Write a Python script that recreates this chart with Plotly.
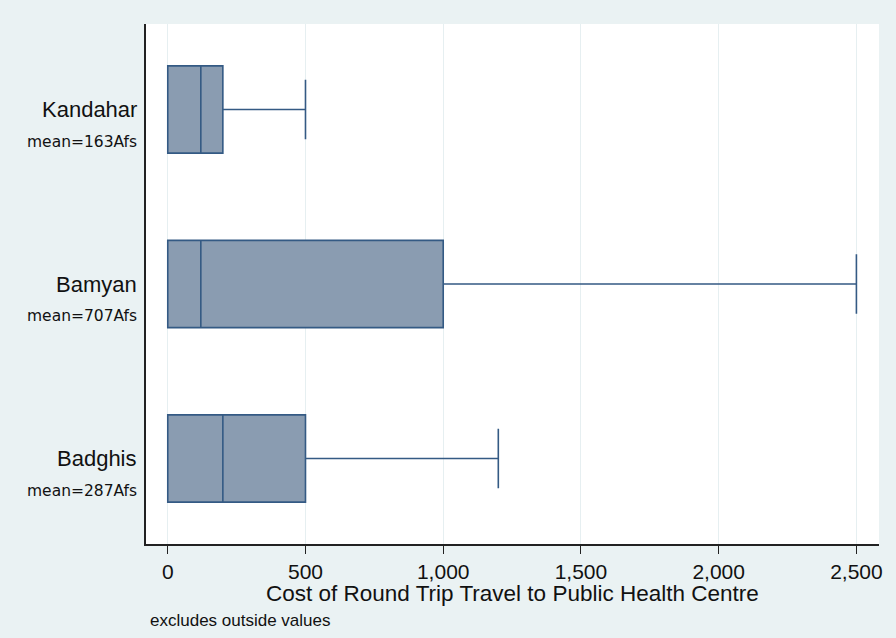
import plotly.graph_objects as go

regions = ["Badghis", "Bamyan", "Kandahar"]
mean_labels = ["mean=287Afs", "mean=707Afs", "mean=163Afs"]
positions = [0, 1, 2]
q1 = [0, 0, 0]
median = [200, 120, 120]
q3 = [500, 1000, 200]
lower = [0, 0, 0]
upper = [1200, 2500, 500]

xtick_vals = [0, 500, 1000, 1500, 2000, 2500]
xtick_text = ["0", "500", "1,000", "1,500", "2,000", "2,500"]
x_title = "Cost of Round Trip Travel to Public Health Centre"
note = "excludes outside values"

BG = "#EAF2F3"
FILL = "#8A9CB1"
LINE = "#345A84"
NARROW = "Liberation Sans Narrow, Arial Narrow, Liberation Sans, Arial, sans-serif"

fig = go.Figure()
for i in range(len(regions)):
    fig.add_trace(go.Box(
        y=[positions[i]], orientation="h",
        q1=[q1[i]], median=[median[i]], q3=[q3[i]],
        lowerfence=[lower[i]], upperfence=[upper[i]],
        width=0.5, whiskerwidth=0.68,
        fillcolor=FILL, line=dict(color=LINE, width=1.6),
        boxpoints=False, showlegend=False, hoverinfo="skip",
    ))

annotations = []
for i in range(len(regions)):
    annotations.append(dict(
        x=0, xref="paper", y=positions[i], yref="y", xanchor="right", yanchor="middle",
        xshift=-7, text=regions[i], showarrow=False,
        font=dict(family="Liberation Sans, Arial, sans-serif", size=22, color="#111111"),
    ))
    annotations.append(dict(
        x=0, xref="paper", y=positions[i], yref="y", xanchor="right", yanchor="middle",
        xshift=-7, yshift=-32, text=mean_labels[i], showarrow=False,
        font=dict(family="DejaVu Sans, Verdana, sans-serif", size=15.5, color="#111111"),
    ))
annotations.append(dict(
    x=0.5, xref="paper", y=0, yref="paper", xanchor="center", yanchor="middle",
    yshift=-49, text=x_title, showarrow=False,
    font=dict(family=NARROW, size=22.5, color="#111111"),
))
annotations.append(dict(
    x=0, xref="paper", y=0, yref="paper", xanchor="left", yanchor="middle",
    xshift=2, yshift=-76, text=note, showarrow=False,
    font=dict(family=NARROW, size=17, color="#111111"),
))

fig.update_layout(
    width=896, height=638,
    margin=dict(l=146, r=17, t=24, b=94),
    paper_bgcolor=BG, plot_bgcolor="white",
    annotations=annotations,
    xaxis=dict(
        range=[-79, 2582], tickvals=xtick_vals, ticktext=xtick_text,
        ticks="outside", ticklen=8, tickcolor="#222222", tickwidth=1.2,
        showline=True, linecolor="#222222", linewidth=2,
        showgrid=True, gridcolor="#E6EFF1", gridwidth=1, zeroline=False,
        automargin=False,
        tickfont=dict(family=NARROW, size=21, color="#111111"),
    ),
    yaxis=dict(
        range=[-0.49, 2.49], showticklabels=False, ticks="",
        showline=True, linecolor="#222222", linewidth=2,
        showgrid=False, zeroline=False, automargin=False,
    ),
)

fig.write_html("out.html", config={"displayModeBar": False},
               post_script="document.body.style.margin='0';")
